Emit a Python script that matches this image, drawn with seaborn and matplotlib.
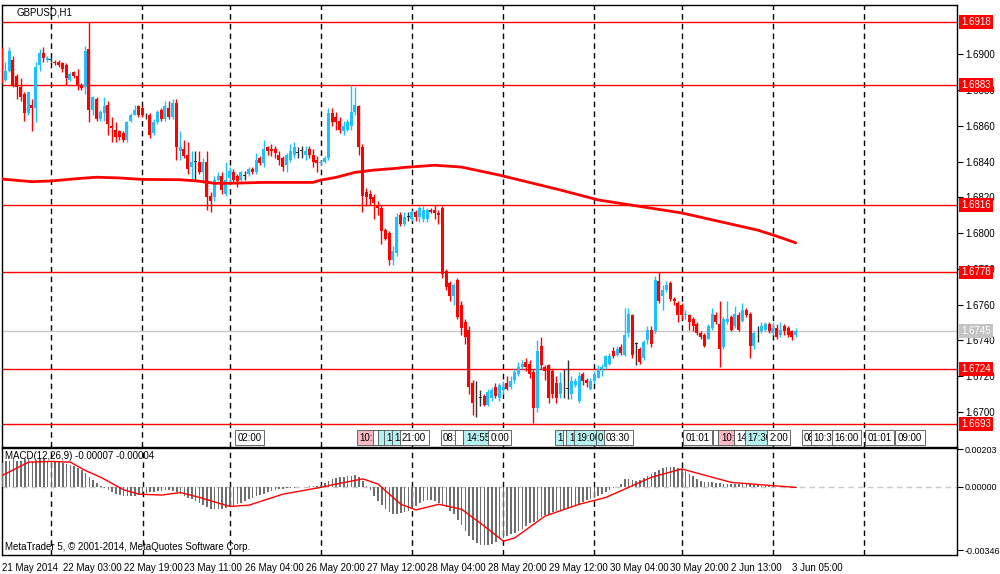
import numpy as np
import matplotlib
matplotlib.use("Agg")
import matplotlib.pyplot as plt
import matplotlib.transforms as mtransforms
import seaborn as sns

sns.set_style("white")
plt.rcParams["font.family"] = ["Liberation Sans", "DejaVu Sans"]
plt.rcParams["font.size"] = 7

# prices are stored in pips above 1.6700
BASE = 1.6700
PIP = 0.0001

opens = [202, 186, 191, 197, 188, 182, 178, 167, 172, 170,
         194, 201, 197, 197, 196, 196, 195, 194, 186, 190,
         188, 183, 182, 203, 169, 175, 164, 167, 172, 160,
         158, 157, 156, 152, 163, 166, 171, 170, 166, 166,
         156, 162, 169, 164, 170, 165, 173, 146, 147, 144,
         137, 140, 140, 134, 140, 121, 120, 130, 132, 122,
         131, 134, 132, 130, 132, 133, 136, 134, 142, 139,
         148, 147, 147, 144, 142, 138, 141, 144, 145, 146,
         144, 147, 144, 141, 139, 140, 142, 167, 165, 163,
         157, 158, 160, 168, 171, 148, 123, 122, 120, 116,
         114, 102, 100, 85, 89, 110, 105, 109, 108, 112,
         109, 108, 108, 113, 113, 111, 114, 79, 72, 65,
         74, 60, 50, 46, 16, 7, 8, 9, 4, 8,
         14, 8, 12, 16, 14, 18, 21, 25, 28, 27,
         22, 2, 37, 25, 26, 23, 16, 10, 12, 13,
         10, 15, 6, 21, 18, 13, 17, 19, 24, 25,
         27, 34, 32, 36, 32, 44, 54, 38, 35, 30,
         40, 46, 45, 73, 65, 68, 72, 63, 61, 60,
         54, 54, 52, 49, 44, 43, 41, 47, 54, 49,
         36, 50, 53, 48, 54, 51, 57, 55, 37, 45,
         45, 46, 49, 44, 47, 43, 48, 47, 45, 43]

highs = [204, 196, 204, 199, 189, 187, 179, 179, 175, 196,
         203, 204, 199, 198, 197, 197, 196, 195, 190, 191,
         192, 184, 205, 218, 177, 176, 169, 176, 174, 165,
         162, 158, 157, 163, 167, 172, 172, 171, 167, 167,
         164, 169, 170, 174, 174, 175, 175, 157, 152, 151,
         146, 146, 146, 142, 146, 123, 132, 134, 134, 140,
         137, 136, 133, 135, 135, 137, 137, 145, 143, 152,
         149, 150, 149, 146, 143, 145, 150, 151, 148, 149,
         149, 149, 147, 143, 141, 143, 170, 170, 168, 165,
         163, 164, 183, 182, 172, 150, 125, 124, 122, 118,
         116, 103, 101, 93, 111, 112, 112, 112, 113, 113,
         115, 115, 114, 114, 116, 113, 115, 80, 73, 72,
         75, 62, 52, 48, 18, 17, 12, 10, 13, 14,
         16, 16, 17, 20, 20, 24, 28, 29, 30, 29,
         24, 40, 42, 26, 27, 24, 20, 22, 24, 29,
         20, 19, 22, 22, 19, 19, 23, 26, 27, 32,
         33, 36, 37, 38, 58, 58, 55, 39, 36, 40,
         48, 48, 76, 78, 71, 73, 73, 64, 62, 61,
         57, 55, 53, 50, 45, 44, 49, 58, 56, 62,
         53, 62, 54, 59, 56, 61, 58, 56, 45, 48,
         50, 50, 50, 50, 49, 50, 49, 48, 46, 47]

lows = [184, 185, 190, 182, 175, 174, 163, 166, 157, 162,
        191, 196, 196, 196, 194, 193, 190, 183, 185, 187,
        180, 180, 178, 162, 166, 163, 163, 163, 155, 151,
        151, 152, 151, 151, 162, 166, 165, 165, 164, 153,
        155, 161, 163, 163, 164, 164, 141, 141, 142, 133,
        130, 130, 133, 128, 113, 112, 118, 129, 122, 121,
        127, 128, 126, 129, 130, 132, 133, 133, 138, 137,
        144, 143, 142, 138, 135, 134, 140, 142, 142, 142,
        141, 142, 137, 134, 138, 139, 141, 160, 158, 156,
        155, 157, 158, 166, 144, 112, 115, 116, 108, 110,
        94, 96, 82, 82, 87, 104, 104, 107, 107, 107,
        106, 106, 106, 111, 108, 105, 75, 68, 62, 60,
        52, 43, 38, 10, -2, -3, 3, 3, 3, 6,
        8, 6, 10, 12, 13, 16, 20, 24, 23, 19,
        -6, 0, 24, 18, 5, 8, 5, 8, 8, 7,
        7, 14, 5, 15, 14, 12, 16, 19, 20, 24,
        26, 30, 31, 32, 31, 42, 30, 26, 27, 29,
        38, 36, 44, 61, 57, 67, 62, 60, 50, 52,
        52, 46, 45, 43, 41, 36, 41, 46, 49, 25,
        35, 49, 45, 47, 45, 50, 53, 30, 35, 39,
        44, 45, 44, 43, 41, 42, 43, 42, 40, 42]

closes = [186, 191, 202, 183, 182, 176, 167, 179, 170, 193,
          201, 198, 198, 197, 195, 194, 192, 187, 189, 188,
          183, 181, 202, 169, 176, 164, 168, 171, 161, 159,
          154, 154, 152, 162, 166, 169, 166, 166, 166, 155,
          162, 168, 164, 171, 165, 173, 148, 148, 143, 136,
          140, 140, 134, 140, 120, 118, 130, 132, 124, 130,
          135, 130, 129, 134, 132, 136, 134, 141, 139, 147,
          146, 146, 145, 141, 137, 144, 146, 148, 145, 146,
          146, 144, 140, 139, 140, 142, 167, 162, 162, 158,
          160, 162, 168, 172, 148, 121, 120, 119, 117, 114,
          101, 97, 85, 90, 109, 105, 109, 109, 112, 109,
          114, 113, 113, 112, 111, 110, 77, 70, 65, 71,
          53, 47, 42, 14, 5, 7, 8, 4, 11, 12,
          9, 15, 14, 13, 17, 22, 25, 27, 25, 21,
          2, 34, 26, 23, 8, 10, 8, 16, 12, 13,
          17, 17, 20, 17, 16, 17, 21, 24, 25, 31,
          31, 31, 35, 33, 43, 55, 32, 38, 28, 39,
          46, 38, 74, 62, 68, 71, 63, 62, 54, 54,
          55, 50, 48, 44, 42, 37, 48, 55, 50, 35,
          52, 52, 46, 55, 46, 57, 54, 37, 44, 45,
          48, 49, 45, 47, 42, 46, 45, 43, 42, 45]

# moving average, read at some bars
ma_bars = [0, 8, 13, 21, 25, 31, 37, 47, 52, 56, 60, 69, 82, 84, 88, 93, 98,
           104, 106, 114, 121, 131, 147, 157, 179, 199, 204, 209]
ma_vals = [130.3, 128.8, 129.2, 130.7, 131.3, 130.9, 130.1, 129.9, 129.1, 127.9,
           127.9, 128.4, 128.4, 129.7, 131.2, 134.0, 135.3, 136.3, 136.8, 138.0,
           137.0, 132.5, 124.2, 118.6, 111.3, 101.7, 98.3, 94.6]

# MACD main (histogram) in units of 0.0001, one per bar
macd_hist = [13, 14, 14, 15, 14, 14, 15, 15, 14, 14, 15, 15, 14, 14, 14, 14,
             13, 12.5, 12, 11, 10, 9, 7.5, 5, 3.5, 2,
             0.5, -1, -2, -3, -4, -4.5, -5, -5, -5, -5,
             -4.5, -4, -3.5, -3, -3, -2.5, -2.5, -2, -2, -2.5, -3, -4,
             -5, -6, -7, -8, -9, -10, -11, -12, -12, -12, -12, -11.5, -11, -10.5, -9.5,
             -9, -8, -7, -6, -5, -4.5, -4, -3, -2.5, -2, -1.5, -1.2, -1, -0.8, -0.5, -0.4, -0.2,
             0, 0.2, 0.4, 0.5, 1, 2,
             3, 4, 4.5, 5, 5.3, 5.6, 6, 6.4, 5, 3, 0.5,
             -2, -5, -8, -10, -12, -14, -15, -15,
             -14.5, -14, -13, -12, -10.5, -9, -8, -7.5, -7.5,
             -8, -9, -10, -11, -13, -15, -18, -21, -24,
             -27, -29, -30.5, -31.5, -31.5, -31.5, -31, -30, -28.5,
             -28, -27, -26, -25, -24, -23, -21.5, -20, -19, -18,
             -16.5, -15.5, -15, -14, -13.5, -13, -12.3, -11.5, -11, -10, -9.6,
             -8.5, -7.5, -6.5, -6, -5, -4, -3, -2, -1, 0, 1.5,
             4, 4.2, 3.5, 3.2, 3.5, 4.5, 5.5, 7, 8, 9, 10, 10.5,
             10.9, 10.5, 10, 9.6, 8.5, 7, 5.5, 4, 3, 2.5, 2.3,
             2.3, 2, 1.8, 1.5, 1.4, 1.4, 1.4, 1.5, 1.4, 1.3, 1.2, 1, 0.8,
             0.5, 0.3, 0.1, 0, -0.2, -0.3, -0.4, -0.4, -0.5, -0.7]

signal_bars = [0, 7, 13, 18, 22, 26, 32, 36, 42, 47, 52, 60, 65, 74, 84, 87, 95,
               99, 105, 109, 115, 121, 127, 132, 135, 143, 152, 159, 165, 171,
               179, 187, 192, 203, 209]
signal_vals = [6.0, 13.3, 13.7, 13.3, 8.7, 5.1, -1.7, -4.1, -4.6, -3.2, -5.9,
               -10.8, -10.1, -4.1, -0.4, 1.0, 4.2, 1.4, -9.6, -12.7, -9.6, -12.3,
               -21.5, -29.7, -27.9, -16.0, -9.6, -5.9, -0.4, 5.1, 9.6, 5.1, 2.3,
               0.5, -0.4]

levels = [1.6918, 1.6883, 1.6816, 1.6778, 1.6724, 1.6693]
last_price = 1.6745

price_ticks = [1.6700, 1.6720, 1.6740, 1.6760, 1.6780, 1.6800,
               1.6820, 1.6840, 1.6860, 1.6880, 1.6900]
macd_ticks = [20.3, 0.0, -34.6]

day_bars = [13, 37, 60, 84, 108, 132, 156, 179, 203, 227]
time_bars = [0, 16, 32, 48, 64, 80, 96, 112, 128, 144, 160, 176, 192, 208]
time_labels = ['21 May 2014', '22 May 03:00', '22 May 19:00', '23 May 11:00',
               '26 May 04:00', '26 May 20:00', '27 May 12:00', '28 May 04:00',
               '28 May 20:00', '29 May 12:00', '30 May 04:00', '30 May 20:00',
               '2 Jun 13:00', '3 Jun 05:00']

# calendar events: bar position, text, kind
event_bars = [62.2, 94.1, 98.3, 99.6, 101.2, 103.3, 105.4, 116.2, 120.1, 122.2,
              128.6, 146.2, 148.3, 149.3, 151.2, 157.0, 159.1, 180.1, 188.0,
              189.3, 193.3, 196.2, 202.0, 211.2, 213.6, 219.1, 228.0, 235.9]
event_text = ['02:00', '10:', ' ', ' ', '1', '1', '21:00', '08:0', ' ', '14:55',
              '0:00', '1', ' ', '1', '19:00', '0', '03:30', '01:01', ' ',
              '10:', '14', '17:30', '2:00', '08', '10:3', '16:00', '01:01', '09:00']
event_kind = ['w', 'p', 'w', 'c', 'c', 'c', 'w', 'w', 'w', 'c',
              'w', 'c', 'w', 'c', 'c', 'c', 'w', 'w', 'w',
              'p', 'w', 'c', 'w', 'w', 'w', 'w', 'w', 'w']

BULL = '#1ec0ff'
BEAR = '#ff0000'
DOJI = '#303030'
kind_color = {'w': '#ffffff', 'c': '#b4f0f0', 'p': '#f8b8c4'}

o = BASE + np.array(opens) * PIP
h = BASE + np.array(highs) * PIP
l = BASE + np.array(lows) * PIP
c = BASE + np.array(closes) * PIP
idx = np.arange(len(closes))

fig = plt.figure(figsize=(10, 5.74), dpi=100)
ax = fig.add_axes([0.002, 1 - 447 / 574, 0.955, 442 / 574])
ax2 = fig.add_axes([0.002, 1 - 555 / 574, 0.955, 107 / 574])

xlim = (0.13, 251.45)

# ---- price panel
for d in day_bars:
    ax.axvline(d, color='black', lw=1, ls=(0, (4, 3)), zorder=1)
ax.axhline(last_price, color='#c8c8c8', lw=1, zorder=1)
for lv in levels:
    ax.axhline(lv, color='red', lw=1, zorder=2)

col = np.where(c > o, BULL, np.where(c < o, BEAR, DOJI))
ax.vlines(idx, l, h, colors=col, lw=1, zorder=3)
body = np.maximum(np.abs(c - o), 0.4 * PIP)
ax.bar(idx, body, bottom=np.minimum(o, c), width=0.75, color=col, lw=0, zorder=4)

sns.lineplot(x=ma_bars, y=BASE + np.array(ma_vals) * PIP, ax=ax,
             color='red', lw=2, zorder=5)

ax.set_xlim(*xlim)
ax.set_ylim(1.66803, 1.69277)
ax.set_xticks([])
ax.yaxis.tick_right()
ax.set_yticks(price_ticks)
ax.set_yticklabels([f"{v:.4f}" for v in price_ticks])
ax.tick_params(axis='y', direction='out', length=4, width=0.8, pad=2,
               labelsize=7, colors='black')

blend = mtransforms.blended_transform_factory(ax.transAxes, ax.transData)
for lv in levels:
    ax.text(1.0045, lv, f"{lv:.4f}", transform=blend, ha='left', va='center',
            color='white', fontsize=7, clip_on=False, zorder=10,
            bbox=dict(boxstyle='square,pad=0.2', fc='red', ec='none'))
ax.text(1.0045, last_price, f"{last_price:.4f}", transform=blend, ha='left',
        va='center', color='white', fontsize=7, clip_on=False, zorder=10,
        bbox=dict(boxstyle='square,pad=0.2', fc='#c4c4c4', ec='none'))

ev_tr = mtransforms.blended_transform_factory(ax.transData, ax.transAxes)
for xb, txt, k in zip(event_bars, event_text, event_kind):
    ax.text(xb, 0.021, txt, transform=ev_tr, ha='left', va='center',
            fontsize=7, color='black', zorder=8, clip_on=True,
            bbox=dict(boxstyle='square,pad=0.25', fc=kind_color[k],
                      ec='#505050', lw=0.6))

ax.text(0.0157, 0.995, 'GBPUSD,H1', transform=ax.transAxes, ha='left',
        va='top', fontsize=7, color='black')

# ---- MACD panel
for d in day_bars:
    ax2.axvline(d, color='black', lw=1, ls=(0, (4, 3)), zorder=1)
ax2.axhline(0, color='#c8c8c8', lw=1, ls=(0, (4, 3)), zorder=1)
ax2.bar(idx, macd_hist, width=0.42, color='#6e6e6e', lw=0, zorder=3)
sns.lineplot(x=signal_bars, y=signal_vals, ax=ax2, color='red', lw=1, zorder=4)

ax2.set_xlim(*xlim)
ax2.set_ylim(-37.2, 21.0)
ax2.yaxis.tick_right()
ax2.set_yticks(macd_ticks)
ax2.set_yticklabels([f"{v / 10000:.5f}" for v in macd_ticks])
ax2.set_xticks(time_bars)
ax2.set_xticklabels(time_labels)
for t in ax2.get_xticklabels():
    t.set_ha('left')
ax2.tick_params(axis='x', direction='out', length=4, width=0.8, pad=2,
                labelsize=7, colors='black')
ax2.tick_params(axis='y', direction='out', length=4, width=0.8, pad=1.5,
                labelsize=6.5, colors='black')
ax2.set_xlabel('')
ax2.set_ylabel('')

ax2.text(0.003, 0.97, 'MACD(12,26,9) -0.00007 -0.00004', transform=ax2.transAxes,
         ha='left', va='top', fontsize=7, color='black')
ax2.text(0.003, 0.03, 'MetaTrader 5, © 2001-2014, MetaQuotes Software Corp.',
         transform=ax2.transAxes, ha='left', va='bottom', fontsize=7,
         color='black')

for a in (ax, ax2):
    for s in a.spines.values():
        s.set_color('black')
        s.set_linewidth(1)
    a.set_xlabel('')
    a.set_ylabel('')

fig.savefig('out.png', dpi=100)
